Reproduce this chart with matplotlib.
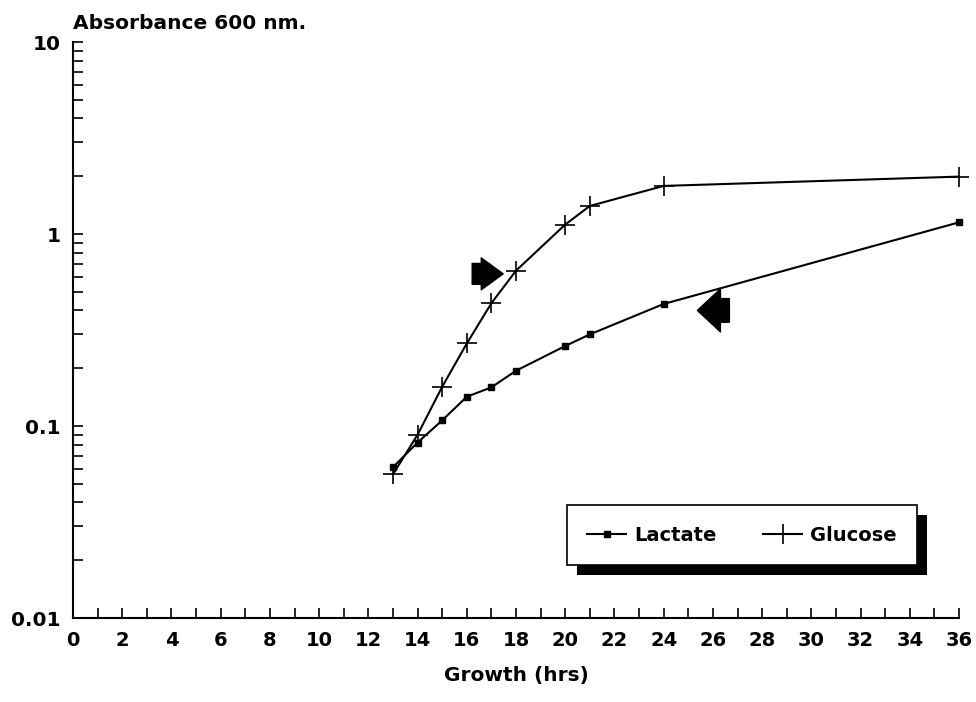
import matplotlib
matplotlib.use("Agg")
import matplotlib.pyplot as plt
from matplotlib.ticker import MultipleLocator, LogLocator, FixedLocator, FixedFormatter, NullFormatter
from matplotlib.patches import Rectangle

# growth data
hours = [13, 14, 15, 16, 17, 18, 20, 21, 24, 36]
lactate = [0.061, 0.082, 0.107, 0.142, 0.159, 0.194, 0.261, 0.30, 0.432, 1.15]
glucose = [0.056, 0.090, 0.160, 0.269, 0.436, 0.644, 1.12, 1.40, 1.78, 1.99]

y_ticks = [0.01, 0.1, 1, 10]
y_ticklabels = ["0.01", "0.1", "1", "10"]
x_ticks = list(range(0, 37, 2))

plt.rcParams['font.family'] = ['DejaVu Sans']
plt.rcParams['font.weight'] = 'bold'
plt.rcParams['axes.labelweight'] = 'bold'
plt.rcParams['font.size'] = 14

fig = plt.figure(figsize=(9.76, 7.02), dpi=100)
ax = fig.add_axes([73 / 976, 1 - 618 / 702, 886 / 976, 576 / 702])

ax.plot(hours, lactate, color='k', lw=1.5, marker='s', ms=4.5, label='Lactate', clip_on=False)
ax.plot(hours, glucose, color='k', lw=1.5, marker='+', ms=15, mew=1.2, label='Glucose', clip_on=False)

ax.set_yscale('log')
ax.set_xlim(0, 36)
ax.set_ylim(0.01, 10)

ax.spines['top'].set_visible(False)
ax.spines['right'].set_visible(False)
for s in ['left', 'bottom']:
    ax.spines[s].set_linewidth(1.5)

ax.xaxis.set_major_locator(FixedLocator(x_ticks))
ax.xaxis.set_minor_locator(MultipleLocator(1))
ax.yaxis.set_major_locator(FixedLocator(y_ticks))
ax.yaxis.set_major_formatter(FixedFormatter(y_ticklabels))
ax.yaxis.set_minor_locator(LogLocator(base=10, subs=range(2, 10)))
ax.yaxis.set_minor_formatter(NullFormatter())
ax.tick_params(which='both', direction='in', length=7, width=1.2)
ax.tick_params(axis='x', pad=9)
ax.tick_params(axis='y', pad=9, labelsize=14.5)

ax.set_xlabel('Growth (hrs)', labelpad=12, fontsize=14.5, fontweight='bold')
ax.text(0, 1.0226, 'Absorbance 600 nm.', transform=ax.transAxes, ha='left', va='baseline', fontsize=14.5)

# block arrows pointing at the curves
ax.annotate('', xy=(17.48, 0.62), xytext=(16.22, 0.62),
            arrowprops=dict(arrowstyle='simple,head_length=0.79,head_width=1.15,tail_width=0.75',
                            fc='k', ec='k', shrinkA=0, shrinkB=0, mutation_scale=20))
ax.annotate('', xy=(25.37, 0.40), xytext=(26.67, 0.40),
            arrowprops=dict(arrowstyle='simple,head_length=0.83,head_width=1.55,tail_width=0.85',
                            fc='k', ec='k', shrinkA=0, shrinkB=0, mutation_scale=20))

leg = ax.legend(ncol=2, loc='upper left', bbox_to_anchor=(0.5576, 0.196), borderaxespad=0,
                fancybox=False, edgecolor='k', framealpha=1, handlelength=2.0,
                handletextpad=0.4, columnspacing=2.4, borderpad=1.05)
leg.get_frame().set_linewidth(1.2)

# heavy drop shadow under the legend box
fig.canvas.draw()
bb = leg.get_window_extent().transformed(ax.transAxes.inverted())
ax.add_patch(Rectangle((bb.x0 + 10 / 886, bb.y0 - 10 / 576), bb.width, bb.height,
                       transform=ax.transAxes, fc='k', ec='none', zorder=4.9, clip_on=False))

fig.savefig('out.png', dpi=100)
